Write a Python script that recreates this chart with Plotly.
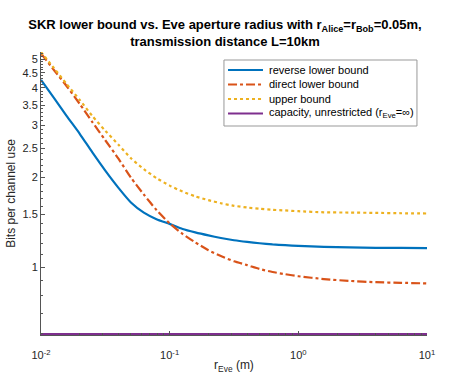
import plotly.graph_objects as go

# r_Eve (m) sample points
r_eve = [0.01, 0.0126, 0.0158, 0.02, 0.025, 0.0316, 0.04, 0.05, 0.063, 0.079,
         0.1, 0.126, 0.158, 0.2, 0.25, 0.316, 0.4, 0.5, 0.63, 0.79,
         1.0, 1.58, 2.5, 4.0, 6.3, 10.0]

reverse_lb = [4.252, 3.701, 3.221, 2.804, 2.431, 2.108, 1.845, 1.648, 1.523, 1.448,
              1.396, 1.342, 1.307, 1.277, 1.252, 1.230, 1.214, 1.202, 1.191, 1.184,
              1.178, 1.169, 1.164, 1.160, 1.159, 1.158]

direct_lb = [5.224, 4.593, 4.059, 3.533, 3.075, 2.667, 2.312, 1.997, 1.752, 1.554,
             1.401, 1.292, 1.210, 1.139, 1.088, 1.045, 1.015, 0.985, 0.962, 0.946,
             0.931, 0.911, 0.898, 0.889, 0.885, 0.881]

upper_b = [5.278, 4.665, 4.123, 3.644, 3.221, 2.870, 2.576, 2.321, 2.132, 1.990,
           1.877, 1.793, 1.728, 1.678, 1.638, 1.606, 1.585, 1.569, 1.557, 1.549,
           1.540, 1.527, 1.524, 1.520, 1.516, 1.513]

capacity = [0.595] * len(r_eve)

series_names = ["reverse lower bound", "direct lower bound", "upper bound",
                "capacity, unrestricted (r<sub>Eve</sub>=∞)"]
series_colors = ["#0072BD", "#D95319", "#EDB120", "#7E2F8E"]
series_dash = ["solid", "dashdot", "dot", "solid"]

y_ticks = [1, 1.5, 2, 2.5, 3, 3.5, 4, 4.5, 5]
y_tick_text = ["1", "1.5", "2", "2.5", "3", "3.5", "4", "4.5", "5"]
x_ticks = [0.01, 0.1, 1, 10]
x_tick_text = ["10<sup>-2</sup>", "10<sup>-1</sup>", "10<sup>0</sup>", "10<sup>1</sup>"]

y_minor = [round(0.6 + 0.1 * i, 1) for i in range(47)]
x_minor = [m * d for d in (0.01, 0.1, 1) for m in range(2, 10)]

fig = go.Figure()
for ys, name, col, dash in zip([reverse_lb, direct_lb, upper_b, capacity],
                               series_names, series_colors, series_dash):
    fig.add_trace(go.Scatter(x=r_eve, y=ys, mode="lines", name=name, showlegend=False,
                             line=dict(color=col, width=2.2, dash=dash,
                                       shape="spline", smoothing=0.6)))

# legend drawn by hand (MATLAB-style compact rows)
fig.add_shape(type="rect", xref="paper", yref="paper", x0=0.474, x1=0.974, y0=0.7385, y1=0.9717,
              line=dict(color="#999999", width=1), fillcolor="white", layer="above")
row_y = [0.9364, 0.8852, 0.8339, 0.7827]
for yy, name, col, dash in zip(row_y, series_names, series_colors, series_dash):
    fig.add_shape(type="line", xref="paper", yref="paper", x0=0.4845, x1=0.5751, y0=yy, y1=yy,
                  line=dict(color=col, width=2.2, dash=dash), layer="above")
    fig.add_annotation(xref="paper", yref="paper", x=0.5845, y=yy, xanchor="left", yanchor="middle",
                       text=name, showarrow=False, font=dict(size=11, color="black"))

axis_col = "#555555"
fig.update_layout(
    width=450, height=391,
    margin=dict(l=41, r=23, t=52, b=56),
    paper_bgcolor="white", plot_bgcolor="white",
    font=dict(family="Liberation Sans, Arial, sans-serif", size=11, color="#262626"),
    title=dict(
        text="SKR lower bound vs. Eve aperture radius with r<sub>Alice</sub>=r<sub>Bob</sub>=0.05m,"
             "<br>transmission distance L=10km",
        x=0.5, xanchor="center", y=0.926, yanchor="top",
        font=dict(size=13, weight="bold", color="black"),
    ),
    xaxis=dict(
        type="log", range=[-2, 1],
        tickmode="array", tickvals=x_ticks, ticktext=x_tick_text,
        ticks="inside", ticklen=4, tickcolor=axis_col, ticklabelstandoff=10,
        showline=True, linecolor=axis_col, linewidth=1, showgrid=False, zeroline=False,
        minor=dict(tickmode="array", tickvals=x_minor, ticks="inside", ticklen=2, tickcolor=axis_col),
        title=dict(text="r<sub>Eve</sub> (m)", font=dict(size=12), standoff=0),
        automargin=False,
    ),
    yaxis=dict(
        type="log", range=[-0.2285, 0.7226],
        tickmode="array", tickvals=y_ticks, ticktext=y_tick_text,
        ticks="inside", ticklen=4, tickcolor=axis_col,
        showline=True, linecolor=axis_col, linewidth=1, showgrid=False, zeroline=False,
        minor=dict(tickmode="array", tickvals=y_minor, ticks="inside", ticklen=2, tickcolor=axis_col),
        title=dict(text="Bits per channel use", font=dict(size=12), standoff=4),
        automargin=False,
    ),
)

# drop the default 8px page margin so the figure sits at the window corner
fig.write_html("out.html", config={"displayModeBar": False},
               post_script="document.body.style.margin='0';")
